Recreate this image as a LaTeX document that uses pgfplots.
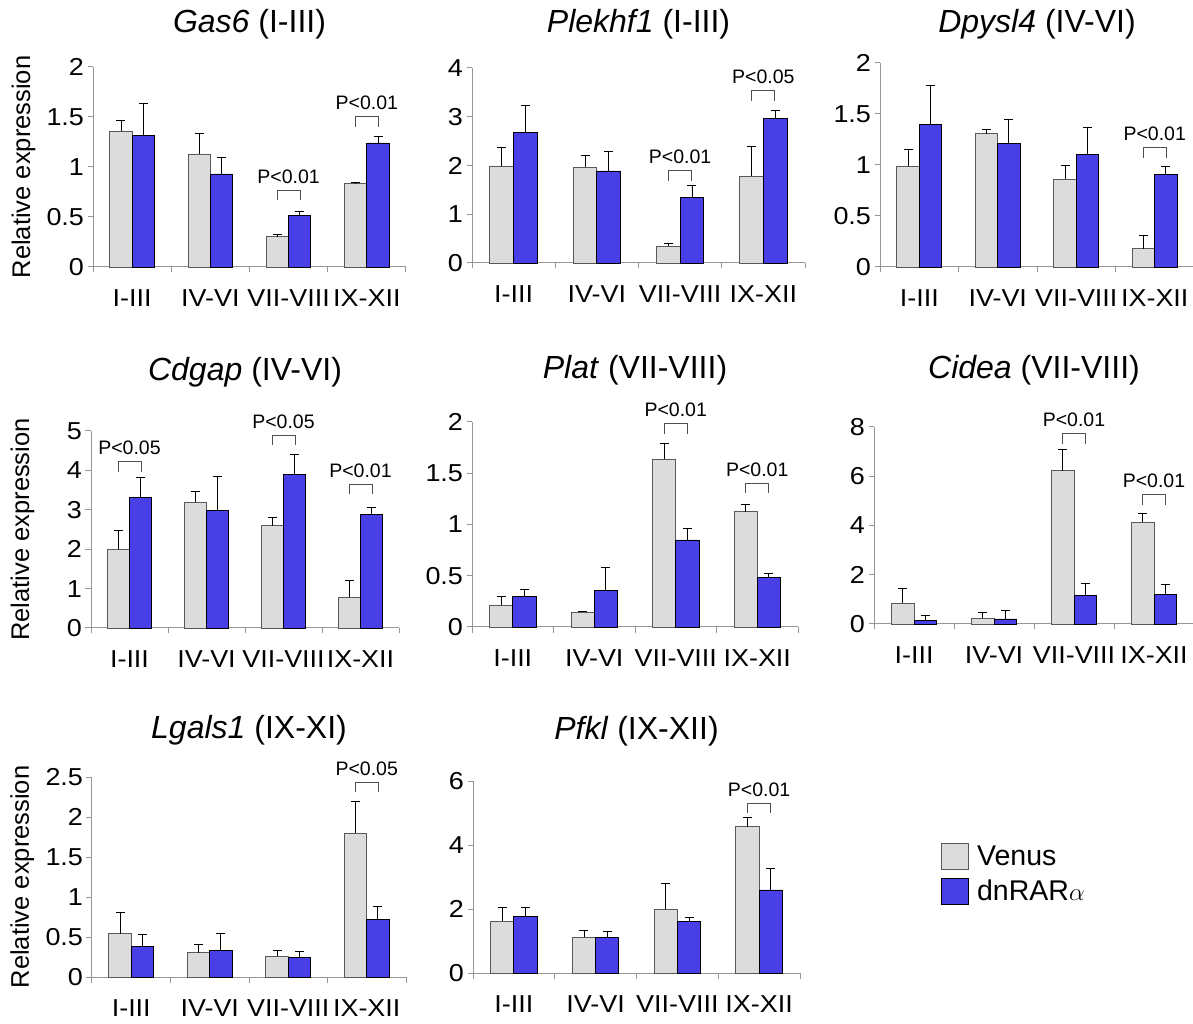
\documentclass[border=0pt]{standalone}
\usepackage{fontspec}
\setmainfont{Liberation Sans}
\newfontfamily\tickfamily{Liberation Sans}[FakeStretch=1.1]
\usepackage{pgfplots}
\pgfplotsset{compat=1.18}
\definecolor{venus}{RGB}{220,220,220}
\definecolor{dnrar}{RGB}{72,64,230}
\definecolor{axgray}{RGB}{150,150,150}
\definecolor{brkgray}{RGB}{80,80,80}
\newcommand{\pbr}[3]{%
  \draw[brkgray, line width=1pt] ([xshift=-11.5pt]axis cs:#1,#2) -- ++(0pt,10pt) -- ++(23pt,0pt) -- ++(0pt,-10pt);
  \node[anchor=base, inner sep=0pt, font=\fontsize{19.5}{22}\selectfont] at ([yshift=17pt]axis cs:#1,#2) {#3};}
\pgfplotsset{
  panel/.style={
    scale only axis,
    anchor=south west,
    axis x line=bottom, axis y line=left,
    axis line style={-, draw=axgray, line width=1pt},
    xmin=-0.5, xmax=3.5, ymin=0,
    xtick={-0.5,0.5,1.5,2.5,3.5},
    xticklabels={I-III,IV-VI,VII-VIII,IX-XII},
    x tick label as interval,
    tick align=outside,
    major tick length=5.5pt,
    tick style={draw=axgray, line width=1pt},
    /pgf/number format/assume math mode=true,
    ticklabel style={font=\tickfamily\fontsize{24.5}{28}\selectfont},
    xticklabel style={yshift=-14pt},
    title style={anchor=base, font=\fontsize{32}{36}\selectfont},
    ylabel style={at={(axis description cs:-0.222,0.5)}, anchor=center, font=\fontsize{25.5}{30}\selectfont},
    ybar, bar width=0.285,
    clip=false,
  },
  gbar/.style={fill=venus, draw=black!65, line width=0.9pt, bar shift=-0.1425,
    error bars/y dir=plus, error bars/y explicit,
    error bars/error bar style={draw=black, line width=0.9pt},
    error bars/error mark options={draw=black, line width=0.9pt, mark size=4.5pt, rotate=90},
    legend image code/.code={\draw[##1,/tikz/.cd,line width=1pt] (0pt,-13pt) rectangle (27pt,13pt);}},
  bbar/.style={fill=dnrar, draw=black, line width=0.9pt, bar shift=0.1425,
    error bars/y dir=plus, error bars/y explicit,
    error bars/error bar style={draw=black, line width=0.9pt},
    error bars/error mark options={draw=black, line width=0.9pt, mark size=4.5pt, rotate=90},
    legend image code/.code={\draw[##1,/tikz/.cd,line width=1pt] (0pt,-13pt) rectangle (27pt,13pt);}},
}
\begin{document}
\begin{tikzpicture}
\useasboundingbox (0pt,0pt) rectangle (1193pt,1023pt);

% Gas6
\begin{axis}[panel, at={(93pt,756pt)}, width=313pt, height=200pt,
  ymax=2, ytick={0,0.5,1,1.5,2}, ylabel={Relative expression},
  title={\textit{Gas6} (I-III)}, title style={yshift=28pt}]
\addplot[gbar] coordinates {(0,1.36)+-(0,0.11) (1,1.13)+-(0,0.21) (2,0.303)+-(0,0.027) (3,0.833)+-(0,0.017)};
\addplot[bbar] coordinates {(0,1.313)+-(0,0.32) (1,0.93)+-(0,0.17) (2,0.513)+-(0,0.047) (3,1.24)+-(0,0.07)};
\pbr{2}{0.667}{P<0.01}
\pbr{3}{1.4}{P<0.01}
\end{axis}

% Plekhf1
\begin{axis}[panel, at={(472pt,760pt)}, width=333pt, height=195pt,
  ymax=4, ytick={0,1,2,3,4},
  title={\textit{Plekhf1} (I-III)}, title style={yshift=29pt}]
\addplot[gbar] coordinates {(0,1.99)+-(0,0.39) (1,1.963)+-(0,0.24) (2,0.34)+-(0,0.055) (3,1.785)+-(0,0.6)};
\addplot[bbar] coordinates {(0,2.685)+-(0,0.545) (1,1.888)+-(0,0.395) (2,1.336)+-(0,0.25) (3,2.964)+-(0,0.164)};
\pbr{2}{1.69}{P<0.01}
\pbr{3}{3.325}{P<0.05}
\end{axis}

% Dpysl4
\begin{axis}[panel, at={(880pt,756pt)}, width=314pt, height=204pt,
  ymax=2, ytick={0,0.5,1,1.5,2},
  title={\textit{Dpysl4} (IV-VI)}, title style={yshift=24pt}]
\addplot[gbar] coordinates {(0,0.987)+-(0,0.164) (1,1.308)+-(0,0.043) (2,0.862)+-(0,0.135) (3,0.18)+-(0,0.125)};
\addplot[bbar] coordinates {(0,1.393)+-(0,0.39) (1,1.207)+-(0,0.24) (2,1.102)+-(0,0.265) (3,0.911)+-(0,0.076)};
\pbr{3}{1.072}{P<0.01}
\end{axis}

% Cdgap
\begin{axis}[panel, at={(91pt,395pt)}, width=308pt, height=197pt,
  ymax=5, ytick={0,1,2,3,4,5}, ylabel={Relative expression},
  title={\textit{Cdgap} (IV-VI)}, title style={yshift=44pt}]
\addplot[gbar] coordinates {(0,2.0)+-(0,0.47) (1,3.187)+-(0,0.27) (2,2.597)+-(0,0.22) (3,0.784)+-(0,0.42)};
\addplot[bbar] coordinates {(0,3.314)+-(0,0.5) (1,2.985)+-(0,0.86) (2,3.887)+-(0,0.52) (3,2.875)+-(0,0.18)};
\pbr{0}{3.963}{P<0.05}
\pbr{2}{4.637}{P<0.05}
\pbr{3}{3.398}{P<0.01}
\end{axis}

% Plat
\begin{axis}[panel, at={(472pt,396pt)}, width=326pt, height=205pt,
  ymax=2, ytick={0,0.5,1,1.5,2},
  title={\textit{Plat} (VII-VIII)}, title style={yshift=37pt}]
\addplot[gbar] coordinates {(0,0.215)+-(0,0.085) (1,0.146)+-(0,0.006) (2,1.639)+-(0,0.15) (3,1.125)+-(0,0.072)};
\addplot[bbar] coordinates {(0,0.299)+-(0,0.068) (1,0.358)+-(0,0.22) (2,0.849)+-(0,0.114) (3,0.485)+-(0,0.039)};
\pbr{2}{1.886}{P<0.01}
\pbr{3}{1.304}{P<0.01}
\end{axis}

% Cidea
\begin{axis}[panel, at={(874pt,399pt)}, width=320pt, height=197pt,
  ymax=8, ytick={0,2,4,6,8},
  title={\textit{Cidea} (VII-VIII)}, title style={yshift=42pt}]
\addplot[gbar] coordinates {(0,0.851)+-(0,0.6) (1,0.23)+-(0,0.24) (2,6.23)+-(0,0.865) (3,4.122)+-(0,0.364)};
\addplot[bbar] coordinates {(0,0.162)+-(0,0.18) (1,0.203)+-(0,0.34) (2,1.162)+-(0,0.49) (3,1.216)+-(0,0.39)};
\pbr{2}{7.324}{P<0.01}
\pbr{3}{4.838}{P<0.01}
\end{axis}

% Lgals1
\begin{axis}[panel, at={(92pt,46pt)}, width=314pt, height=200pt,
  ymax=2.5, ytick={0,0.5,1,1.5,2,2.5}, ylabel={Relative expression},
  title={\textit{Lgals1} (IX-XI)}, title style={yshift=33pt}]
\addplot[gbar] coordinates {(0,0.542)+-(0,0.27) (1,0.304)+-(0,0.104) (2,0.258)+-(0,0.08) (3,1.796)+-(0,0.395)};
\addplot[bbar] coordinates {(0,0.379)+-(0,0.15) (1,0.329)+-(0,0.22) (2,0.242)+-(0,0.075) (3,0.721)+-(0,0.158)};
\pbr{3}{2.3125}{P<0.05}
\end{axis}

% Pfkl
\begin{axis}[panel, at={(473pt,50pt)}, width=327pt, height=192pt,
  ymax=6, ytick={0,2,4,6},
  title={\textit{Pfkl} (IX-XII)}, title style={yshift=36pt},
  legend style={at={(axis description cs:1.431,0.68)}, anchor=north west, draw=none, fill=none,
    inner sep=0pt, row sep=8pt, column sep=3pt, font=\fontsize{28.5}{32}\selectfont,
    nodes={inner ysep=1pt, inner xsep=5pt}},
  legend cell align=left]
\addplot[gbar] coordinates {(0,1.619)+-(0,0.415) (1,1.111)+-(0,0.23) (2,2.0)+-(0,0.79) (3,4.568)+-(0,0.28)};
\addlegendentry{Venus}
\addplot[bbar] coordinates {(0,1.765)+-(0,0.29) (1,1.111)+-(0,0.19) (2,1.609)+-(0,0.115) (3,2.595)+-(0,0.665)};
\addlegendentry{dnRAR$\alpha$}
\pbr{3}{5.0}{P<0.01}
\end{axis}
\end{tikzpicture}
\end{document}
